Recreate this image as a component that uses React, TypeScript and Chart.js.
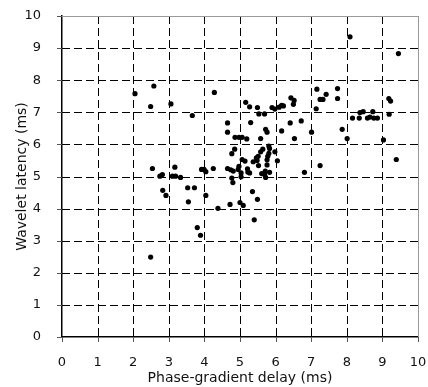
import React, { useEffect, useRef } from "react";
import { Chart, registerables } from "chart.js";

Chart.register(...registerables);

const xValues: number[] = [
  2.05, 2.58, 2.49, 3.06, 3.66, 4.28, 2.54, 2.75, 2.82, 3.17, 3.10, 3.19, 3.33, 3.92, 3.99, 4.04, 4.25,
  2.83, 2.92, 3.53, 3.72, 3.55, 4.04, 3.80, 3.89, 4.38, 2.49,
  4.65, 4.65, 4.86, 4.77, 4.85, 4.65, 4.74, 4.81, 4.77, 4.80, 4.72, 4.97, 5.06, 5.19, 5.58, 5.30,
  5.16, 5.27, 5.49, 5.53, 5.69, 5.72, 5.76, 5.90, 5.98, 6.10, 6.17, 6.22, 6.43, 6.52, 6.50,
  7.16, 7.74, 7.42, 7.25, 7.33, 7.74, 7.14, 6.17, 6.41, 6.72, 6.53, 7.01, 7.87, 8.01, 8.09, 9.45,
  8.16, 8.35, 8.37, 8.46, 8.58, 8.65, 8.73, 8.76, 8.86, 9.18, 9.23, 9.19, 9.03, 9.39, 7.25, 6.81,
  5.35, 5.49, 5.00, 5.09, 5.40, 5.03, 5.03, 5.22, 5.61, 5.72, 5.83,
  5.81, 5.83, 5.81, 5.78, 5.76, 5.76, 5.98, 6.05, 5.58, 5.51, 5.48, 5.37, 5.52, 5.06, 5.14,
  4.97, 4.95, 5.21, 5.71, 5.64, 5.27, 5.69, 5.46,
];

const yValues: number[] = [
  7.58, 7.82, 7.18, 7.26, 6.90, 7.62, 5.25, 5.01, 5.06, 5.29, 5.01, 5.01, 4.97, 5.22, 5.22, 5.15, 5.25,
  4.57, 4.41, 4.65, 4.65, 4.21, 4.41, 3.41, 3.17, 4.01, 2.49,
  6.67, 6.38, 6.22, 5.71, 5.85, 5.25, 5.21, 5.17, 4.95, 4.81, 4.13, 6.22, 6.22, 6.17, 6.18, 6.68,
  7.31, 7.17, 7.15, 6.95, 6.95, 6.47, 6.38, 7.15, 7.10, 7.16, 7.22, 7.20, 7.45, 7.37, 7.25,
  7.72, 7.74, 7.56, 7.40, 7.40, 7.43, 7.11, 6.42, 6.67, 6.73, 6.18, 6.38, 6.47, 6.18, 9.35, 8.83,
  6.82, 6.82, 6.99, 7.02, 6.82, 6.85, 7.02, 6.82, 6.82, 7.43, 7.35, 6.94, 6.14, 5.53, 5.34, 5.13,
  4.53, 4.29, 4.19, 4.10, 3.65, 5.11, 4.99, 5.14, 5.09, 4.97, 5.13,
  5.95, 5.87, 5.72, 5.63, 5.52, 5.36, 5.77, 5.49, 5.77, 5.63, 5.50, 5.46, 5.34, 5.53, 5.48,
  5.32, 5.22, 5.24, 5.17, 5.85, 5.11, 5.06, 5.58,
];

const xTicks: number[] = [0, 1, 2, 3, 4, 5, 6, 7, 8, 9, 10];
const yTicks: number[] = [0, 1, 2, 3, 4, 5, 6, 7, 8, 9, 10];
const xTitle = "Phase-gradient delay (ms)";
const yTitle = "Wavelet latency (ms)";

const FONT = "'DejaVu Sans', Verdana, sans-serif";

const gridPlugin = {
  id: "dashedGrid",
  beforeDatasetsDraw(chart: any) {
    const { ctx, chartArea } = chart;
    const xs = chart.scales.x;
    const ys = chart.scales.y;
    ctx.save();
    ctx.lineWidth = 1;
    ctx.strokeStyle = "#000";
    ctx.setLineDash([8, 4]);
    ctx.beginPath();
    xTicks.forEach((v) => {
      if (v <= xs.min || v >= xs.max) return;
      const px = Math.round(xs.getPixelForValue(v)) + 0.5;
      ctx.moveTo(px, chartArea.top);
      ctx.lineTo(px, chartArea.bottom);
    });
    yTicks.forEach((v) => {
      if (v <= ys.min || v >= ys.max) return;
      const py = Math.round(ys.getPixelForValue(v)) + 0.5;
      ctx.moveTo(chartArea.left, py);
      ctx.lineTo(chartArea.right, py);
    });
    ctx.stroke();
    ctx.setLineDash([]);
    ctx.strokeStyle = "#555";
    ctx.beginPath();
    xTicks.forEach((v) => {
      const px = Math.round(xs.getPixelForValue(v)) + 0.5;
      ctx.moveTo(px, chartArea.bottom);
      ctx.lineTo(px, chartArea.bottom + 5);
    });
    yTicks.forEach((v) => {
      const py = Math.round(ys.getPixelForValue(v)) + 0.5;
      ctx.moveTo(chartArea.left - 5, py);
      ctx.lineTo(chartArea.left, py);
    });
    ctx.stroke();
    ctx.strokeStyle = "#9a9a9a";
    ctx.beginPath();
    ctx.moveTo(chartArea.left, Math.round(chartArea.top) + 0.5);
    ctx.lineTo(chartArea.right, Math.round(chartArea.top) + 0.5);
    ctx.moveTo(Math.round(chartArea.right) + 0.5, chartArea.top);
    ctx.lineTo(Math.round(chartArea.right) + 0.5, chartArea.bottom);
    ctx.stroke();
    ctx.restore();
  },
};

export default function App() {
  const ref = useRef<HTMLCanvasElement | null>(null);
  useEffect(() => {
    document.body.style.margin = "0";
    const data = xValues.map((x, i) => ({ x, y: yValues[i] }));
    const chart = new Chart(ref.current as HTMLCanvasElement, {
      type: "scatter",
      data: {
        datasets: [
          {
            data,
            backgroundColor: "#000",
            borderColor: "#000",
            pointRadius: 2.6,
            pointHoverRadius: 2.6,
            borderWidth: 0,
          },
        ],
      },
      options: {
        animation: false,
        responsive: false,
        maintainAspectRatio: false,
        layout: { padding: { top: 16, right: 10, left: 10, bottom: 0 } },
        plugins: { legend: { display: false }, tooltip: { enabled: false } },
        scales: {
          x: {
            type: "linear",
            min: 0,
            max: 10,
            afterBuildTicks: (s: any) => {
              s.ticks = xTicks.map((v) => ({ value: v }));
            },
            afterFit: (s: any) => {
              s.height = 50;
              s.paddingRight = 0;
              s.paddingLeft = 0;
            },
            ticks: {
              color: "#111",
              font: { family: FONT, size: 13 },
              padding: 10,
              maxRotation: 0,
              autoSkip: false,
            },
            grid: { display: false },
            border: { display: true, color: "#000", width: 1.5 },
            title: {
              display: true,
              text: xTitle,
              color: "#111",
              font: { family: FONT, size: 14 },
              padding: { top: 4, bottom: 0 },
            },
          },
          y: {
            type: "linear",
            min: 0,
            max: 10,
            afterBuildTicks: (s: any) => {
              s.ticks = yTicks.map((v) => ({ value: v }));
            },
            afterFit: (s: any) => {
              s.width = 52;
              s.paddingTop = 0;
              s.paddingBottom = 0;
            },
            ticks: {
              color: "#111",
              font: { family: FONT, size: 13 },
              padding: 13,
              autoSkip: false,
            },
            grid: { display: false },
            border: { display: true, color: "#000", width: 1.5 },
            title: {
              display: true,
              text: yTitle,
              color: "#111",
              font: { family: FONT, size: 14 },
            },
          },
        },
      },
      plugins: [gridPlugin],
    });
    return () => chart.destroy();
  }, []);
  return (
    <div style={{ width: 428, height: 387 }}>
      <canvas ref={ref} width={428} height={387} />
    </div>
  );
}
